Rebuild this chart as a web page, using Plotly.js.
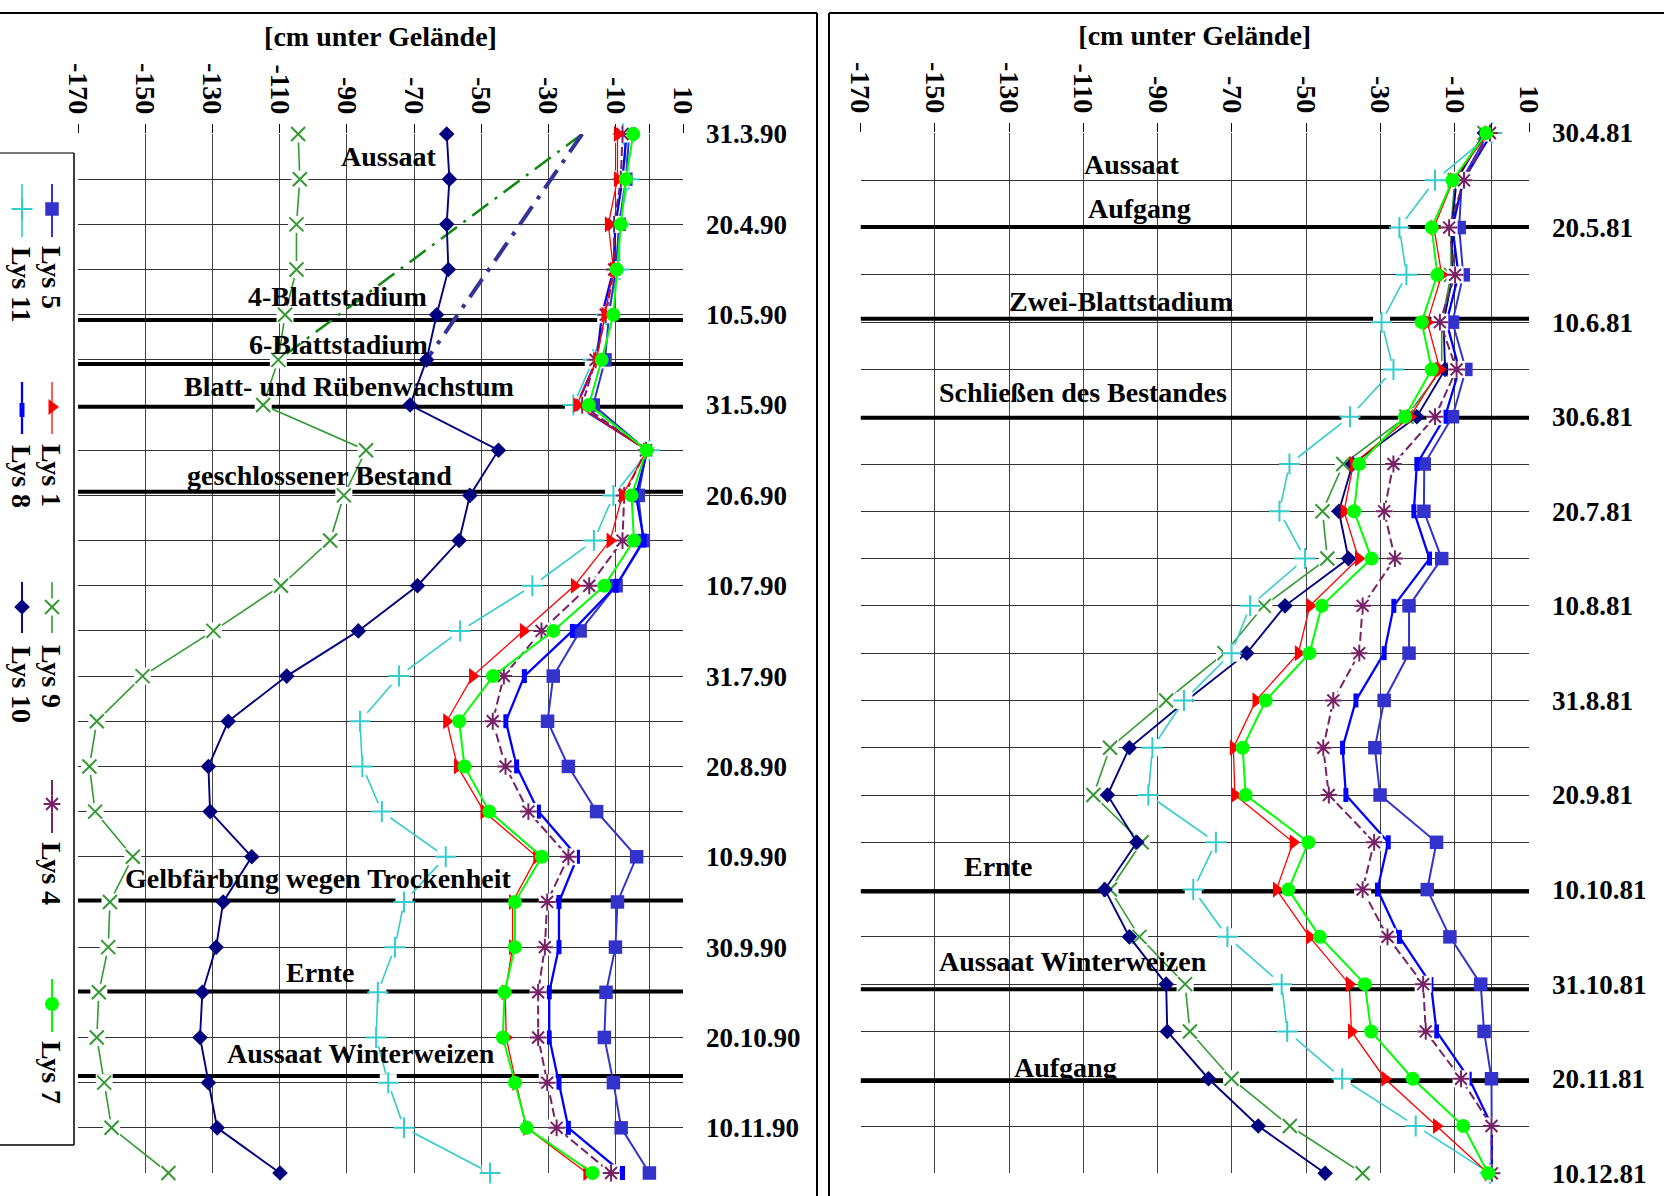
<!DOCTYPE html>
<html><head><meta charset="utf-8">
<script src="https://cdn.plot.ly/plotly-3.0.1.min.js"></script>
<style>html,body{margin:0;padding:0;background:#fff;} #chart{width:1667px;height:1196px;}</style>
</head><body><div id="chart"></div>
<script>
const W = 1667, H = 1196;

// ---------- DATA ----------
const xTickVals = [-170, -150, -130, -110, -90, -70, -50, -30, -10, 0, 10];
const xTickText = ['-170', '-150', '-130', '-110', '-90', '-70', '-50', '-30', '-10', '', '10'];
const xTitle = '[cm unter Gelände]';

const datesL = ['31.3.90','10.4.90','20.4.90','30.4.90','10.5.90','20.5.90','31.5.90','10.6.90','20.6.90','30.6.90','10.7.90','20.7.90','31.7.90','10.8.90','20.8.90','31.8.90','10.9.90','20.9.90','30.9.90','10.10.90','20.10.90','31.10.90','10.11.90','20.11.90'];
const datesR = ['30.4.81','10.5.81','20.5.81','31.5.81','10.6.81','20.6.81','30.6.81','10.7.81','20.7.81','31.7.81','10.8.81','20.8.81','31.8.81','10.9.81','20.9.81','30.9.81','10.10.81','20.10.81','31.10.81','10.11.81','20.11.81','30.11.81','10.12.81'];

// left panel (1990)
const L_lys5  = [-6, -7, -9, -10, -12, -13.2, -16.7, -0.8, -3.3, -1.8, -9.9, -20.6, -28.6, -30.3, -24.1, -15.7, -3.8, -9.5, -10.1, -12.9, -13.4, -10.7, -8.4, 0];
const L_lys11 = [-7.8, -6.2, -8.9, -8.9, -12.8, -16.7, -22.6, 0, -10.7, -16.5, -34.8, -56.3, -74.5, -86.1, -85.4, -79.6, -60.6, -73.0, -75.7, -80.8, -81.3, -77.7, -73.0, -47.4];
const L_lys1  = [-9.5, -9.5, -12.2, -10.7, -13.2, -15.7, -21.6, -0.8, -8, -11.7, -22.3, -37.5, -52.6, -60.3, -57.1, -49.2, -33.5, -40.7, -40.7, -42.9, -42.6, -39.7, -36.5, -18.6];
const L_lys8  = [-6.8, -8.0, -10.1, -10.7, -14.1, -15.7, -21.6, -0.6, -4.0, -1.6, -9.9, -22.9, -37.2, -42.7, -39.5, -33.0, -21.4, -26.9, -26.9, -29.8, -29.8, -26.9, -24.1, -8.0];
const L_lys9  = [-104.5, -104, -105, -105, -108.4, -110.4, -114.9, -84.3, -90.9, -95.0, -109.6, -129.7, -150.8, -164.4, -166.6, -164.9, -153.7, -160.5, -161.0, -163.8, -164.4, -162.2, -160.0, -143.1];
const L_lys10 = [-60.3, -59.5, -60.3, -59.8, -63.3, -66.3, -71.2, -44.9, -53.4, -56.6, -69.0, -86.6, -107.9, -125.3, -131.2, -130.7, -118.3, -126.8, -128.9, -133.0, -133.7, -131.2, -128.6, -109.9];
const L_lys4  = [-8, -8.5, -10.5, -10.5, -13, -16, -20, -1, -7.5, -8.0, -17.9, -32.1, -43.3, -46.6, -42.8, -36.0, -24.1, -30.4, -31.1, -33.1, -33.1, -30.4, -27.6, -11.4];
const L_lys7  = [-4.8, -7, -8.5, -9.7, -10.7, -14.2, -18, -0.8, -5.3, -4.6, -13.4, -28.6, -46.5, -56.6, -55.0, -47.6, -32.0, -40.0, -40.0, -43.1, -43.6, -40.0, -36.5, -16.9];
// dash-dot connectors in the left panel (from 31.3.90 to 20.5.90)
const L_dashRows = ['31.3.90', '20.5.90'];
const L_dash9  = [-20, -110.4];
const L_dash10 = [-20, -66.3];

// right panel (1981)
const R_lys5  = [-1, -8.1, -8.8, -7.7, -10.6, -7.0, -10.6, -18.2, -18.3, -13.5, -22.3, -22.3, -29.0, -31.5, -30.1, -14.9, -17.4, -11.3, -3.0, -2.1, -0.1, 0, 0];
const R_lys11 = [0, -15.3, -24.9, -23.0, -29.7, -26.5, -38.2, -54.5, -57.2, -50.3, -65.1, -70.1, -82.9, -91.4, -92.5, -74.3, -80.4, -71.2, -56.6, -55.1, -40.3, -20.5, -0.5];
const R_lys1  = [-1, -10.4, -15.6, -13.5, -17.4, -14.0, -22.0, -37.3, -39.8, -35.9, -49.0, -52.1, -63.5, -69.6, -69.2, -53.5, -58.0, -49.1, -38.4, -37.8, -28.8, -14.9, -1];
const R_lys8  = [0, -7.7, -10.6, -9.0, -12.2, -8.8, -12.6, -20.2, -21.0, -16.8, -26.4, -29.0, -36.6, -40.2, -39.3, -27.9, -30.8, -24.9, -16.4, -14.9, -6.1, 0, 0];
const R_lys9  = [-2, -10, -11, -11, -13.5, -13.5, -23, -40.0, -45.6, -44.3, -61.4, -72, -87.7, -102.8, -107.3, -94.3, -102.8, -94.9, -82.6, -81.3, -70.1, -54.4, -34.8];
const R_lys10 = [-2, -9.5, -10.8, -10.5, -13, -12.6, -20.2, -37.5, -41.2, -38.6, -55.7, -66.0, -82.2, -97.6, -103.5, -95.6, -104.2, -97.6, -87.7, -87.4, -76.3, -62.9, -44.9];
const R_lys4  = [-0.5, -7.5, -11.5, -9.9, -14.0, -9.5, -15.3, -26.5, -29.0, -26.1, -34.8, -35.7, -42.7, -45.4, -43.9, -31.7, -34.8, -28.1, -18.5, -17.8, -8.3, -0.1, 0];
const R_lys7  = [-1.5, -10.6, -16.2, -14.7, -18.9, -16.2, -23.4, -35.7, -37.1, -32.4, -45.8, -49.1, -60.9, -67.1, -66.3, -49.4, -54.8, -46.3, -34.2, -32.5, -21.3, -7.7, -1];

// phenology events (row positions) and labels
const L_eventRows = [4.12, 5.09, 6.04, 7.92, 16.97, 18.98, 20.85];
const L_labels = ['Aussaat', '4-Blattstadium', '6-Blattstadium', 'Blatt- und Rübenwachstum', 'geschlossener Bestand', 'Gelbfärbung wegen Trockenheit', 'Ernte', 'Aussaat Winterweizen'];
const R_eventRows = [1.99, 3.93, 6.02, 16.04, 18.11, 20.05];
const R_labels = ['Aussaat', 'Aufgang', 'Zwei-Blattstadium', 'Schließen des Bestandes', 'Ernte', 'Aussaat Winterweizen', 'Aufgang'];

// ---------- STYLE ----------
const FONT = 'Liberation Serif, Times New Roman, serif';
const series = [
  {name: 'Lys 9',  L: L_lys9,  R: R_lys9,  color: '#339933', sym: 'x-thin-open',     size: 14, mlw: 2,   lw: 1.6, dash: 'solid', halo: true},
  {name: 'Lys 10', L: L_lys10, R: R_lys10, color: '#000080', sym: 'diamond',         size: 12, mlw: 0,   lw: 1.9, dash: 'solid'},
  {name: 'Lys 11', L: L_lys11, R: R_lys11, color: '#33CCCC', sym: 'cross-thin-open', size: 15, mlw: 2,   lw: 1.6, dash: 'solid', halo: true},
  {name: 'Lys 5',  L: L_lys5,  R: R_lys5,  color: '#3333CC', sym: 'square',          size: 13.5, mlw: 0, lw: 2,   dash: 'solid'},
  {name: 'Lys 8',  L: L_lys8,  R: R_lys8,  color: '#0000FF', sym: 'line-ns-open',    size: 10, mlw: 5,   lw: 2.3, dash: 'solid'},
  {name: 'Lys 4',  L: L_lys4,  R: R_lys4,  color: '#772266', sym: 'asterisk-open',   size: 14, mlw: 2,   lw: 2,   dash: '9px,4px', halo: true},
  {name: 'Lys 1',  L: L_lys1,  R: R_lys1,  color: '#FF0000', sym: 'triangle-right',  size: 14, mlw: 0,   lw: 1.3, dash: 'solid'},
  {name: 'Lys 7',  L: L_lys7,  R: R_lys7,  color: '#00FF00', sym: 'circle',          size: 14, mlw: 0,   lw: 2,   dash: 'solid'}
];
// legend layout (pixel positions): [x, lineTop, lineBottom, markerY, textY, textX]
const legendPos = {
  'Lys 5': [52, 184, 237, 209, 277, 52], 'Lys 11': [22, 184, 237, 209, 284, 22],
  'Lys 1': [52, 382, 434, 407, 475, 52], 'Lys 8': [22, 382, 434, 410, 476, 22],
  'Lys 9': [52, 582, 633, 607, 676, 52], 'Lys 10': [22, 582, 633, 607, 684, 22],
  'Lys 4': [52, 780, 833, 804, 873, 52], 'Lys 7': [52, 979, 1032, 1004, 1072, 52]
};

const traces = [];
function addSeries(s, xs, ys, xa, ya) {
  const mk = {symbol: s.sym, size: s.size, color: s.color, line: {color: s.color, width: s.mlw}};
  if (s.halo) {
    traces.push({x: xs, y: ys, xaxis: xa, yaxis: ya, mode: 'lines', line: {color: s.color, width: s.lw, dash: s.dash}, showlegend: false, hoverinfo: 'skip', cliponaxis: false});
    traces.push({x: xs, y: ys, xaxis: xa, yaxis: ya, mode: 'markers', marker: {symbol: 'square', size: 17, color: '#ffffff', line: {width: 0}}, showlegend: false, hoverinfo: 'skip', cliponaxis: false});
    traces.push({x: xs, y: ys, xaxis: xa, yaxis: ya, mode: 'markers', name: s.name, marker: mk, showlegend: false, cliponaxis: false});
  } else {
    traces.push({x: xs, y: ys, xaxis: xa, yaxis: ya, mode: 'lines+markers', name: s.name, line: {color: s.color, width: s.lw, dash: s.dash}, marker: mk, showlegend: false, cliponaxis: false});
  }
}

// dash-dot connectors
traces.push({x: L_dash9, y: L_dashRows, xaxis: 'x', yaxis: 'y', mode: 'lines', line: {color: '#118811', width: 2.5, dash: '20px,8px,3px,8px'}, showlegend: false, hoverinfo: 'skip'});
traces.push({x: L_dash10, y: L_dashRows, xaxis: 'x', yaxis: 'y', mode: 'lines', line: {color: '#333399', width: 4, dash: '22px,9px,4px,9px'}, showlegend: false, hoverinfo: 'skip'});

series.forEach(s => addSeries(s, s.L, datesL, 'x', 'y'));
series.forEach(s => addSeries(s, s.R, datesR, 'x2', 'y2'));

// manual rotated legend (pixel axis x9/y9)
const annotations = [];
series.forEach(s => {
  const p = legendPos[s.name];
  const mk = {symbol: s.sym, size: s.size, color: s.color, line: {color: s.color, width: s.mlw}};
  traces.push({x: [p[0], p[0]], y: [p[1], p[2]], xaxis: 'x9', yaxis: 'y9', mode: 'lines', line: {color: s.color, width: s.lw, dash: 'solid'}, showlegend: false, hoverinfo: 'skip'});
  if (s.halo) traces.push({x: [p[0]], y: [p[3]], xaxis: 'x9', yaxis: 'y9', mode: 'markers', marker: {symbol: 'square', size: 17, color: '#fff', line: {width: 0}}, showlegend: false, hoverinfo: 'skip'});
  traces.push({x: [p[0]], y: [p[3]], xaxis: 'x9', yaxis: 'y9', mode: 'markers', marker: mk, showlegend: false, hoverinfo: 'skip'});
  annotations.push({xref: 'x9', yref: 'y9', x: p[5], y: p[4], text: s.name, textangle: 90, showarrow: false, xanchor: 'center', yanchor: 'middle', font: {family: FONT, size: 28, weight: 'bold', color: '#000'}});
});

// event label positions (pixel centres)
const L_labelPos = [[389, 156], [337, 296], [338, 344], [349, 387], [319, 475], [318, 878], [320, 972], [361, 1053]];
const R_labelPos = [[1132, 165], [1139, 208], [1121, 301], [1083, 392], [998, 866], [1073, 961], [1065, 1067]];
function addLabels(labels, pos) {
  labels.forEach((t, i) => annotations.push({xref: 'paper', yref: 'paper', x: pos[i][0] / W, y: 1 - pos[i][1] / H, text: t, showarrow: false, xanchor: 'center', yanchor: 'middle', font: {family: FONT, size: 28, weight: 'bold', color: '#000'}}));
}
addLabels(L_labels, L_labelPos);
addLabels(R_labels, R_labelPos);

// shapes
const shapes = [];
L_eventRows.forEach(r => shapes.push({type: 'line', xref: 'x', yref: 'y', x0: -172, x1: 10.5, y0: r, y1: r, line: {color: '#000', width: 4}, layer: 'between'}));
R_eventRows.forEach(r => shapes.push({type: 'line', xref: 'x2', yref: 'y2', x0: -170, x1: 10, y0: r, y1: r, line: {color: '#000', width: 4}, layer: 'between'}));
function pline(x0, y0, x1, y1, c, w) { shapes.push({type: 'line', xref: 'paper', yref: 'paper', x0: x0 / W, x1: x1 / W, y0: 1 - y0 / H, y1: 1 - y1 / H, line: {color: c, width: w}}); }
pline(0, 13, 817, 13, '#000', 2); pline(817, 13, 817, H, '#000', 2);
pline(829, 13, 1664, 13, '#000', 2); pline(829, 13, 829, H, '#000', 2);
pline(0, 153, 74, 153, '#777', 2); pline(74, 153, 74, 1145, '#000', 1.5); pline(0, 1145, 74, 1145, '#000', 1.5);

const tickFont = {family: FONT, size: 28, weight: 'bold', color: '#000'};
function xAxis(dom, anchor) {
  return {domain: dom, anchor: anchor, side: 'top', range: [-170, 10], tickmode: 'array', tickvals: xTickVals, ticktext: xTickText,
    tickangle: 90, ticks: 'outside', ticklen: 9, tickcolor: '#000', tickwidth: 1, showgrid: true, gridcolor: '#444', gridwidth: 1,
    zeroline: false, showline: false, tickfont: tickFont, fixedrange: true,
    title: {text: xTitle, font: {family: FONT, size: 28, weight: 'bold', color: '#000'}, standoff: 8}};
}
function yAxis(dom, anchor, dates) {
  return {domain: dom, anchor: anchor, side: 'right', type: 'category', categoryarray: dates, range: [dates.length - 1, 0],
    tickmode: 'array', tickvals: dates, ticktext: dates.map((d, i) => i % 2 === 0 ? d : ''), ticks: '', ticklabelstandoff: 22,
    showgrid: true, gridcolor: '#333', gridwidth: 1, zeroline: false, showline: false, fixedrange: true,
    tickfont: {family: FONT, size: 27, weight: 'bold', color: '#000'}};
}
function crossAxis(over, pos, dates, dir) {
  return {overlaying: over, anchor: 'free', position: pos, side: 'left', range: [dates.length - 1, 0], tickmode: 'array',
    tickvals: dates.map((d, i) => i), ticks: dir, ticklen: 9, tickcolor: '#000', tickwidth: 1.5, showticklabels: false,
    showgrid: false, zeroline: false, showline: false, fixedrange: true};
}

const layout = {
  width: W, height: H, margin: {l: 0, r: 0, t: 0, b: 0}, paper_bgcolor: '#fff', plot_bgcolor: 'rgba(0,0,0,0)', showlegend: false,
  xaxis: xAxis([78 / W, 683 / W], 'y'),
  yaxis: yAxis([1 - 1173 / H, 1 - 134 / H], 'x', datesL),
  xaxis2: xAxis([860.5 / W, 1529 / W], 'y2'),
  yaxis2: yAxis([1 - 1173.3 / H, 1 - 133 / H], 'x2', datesR),
  yaxis3: crossAxis('y', 649.4 / W, datesL, 'outside'),
  yaxis5: crossAxis('y', 649.4 / W, datesL, 'inside'),
  yaxis4: crossAxis('y2', 1491.9 / W, datesR, 'outside'),
  yaxis6: crossAxis('y2', 1491.9 / W, datesR, 'inside'),
  xaxis9: {domain: [0, 1], range: [0, W], anchor: 'y9', visible: false, fixedrange: true},
  yaxis9: {domain: [0, 1], range: [H, 0], anchor: 'x9', visible: false, fixedrange: true},
  shapes: shapes, annotations: annotations
};

Plotly.newPlot('chart', traces, layout, {displayModeBar: false, staticPlot: true});
</script></body></html>
